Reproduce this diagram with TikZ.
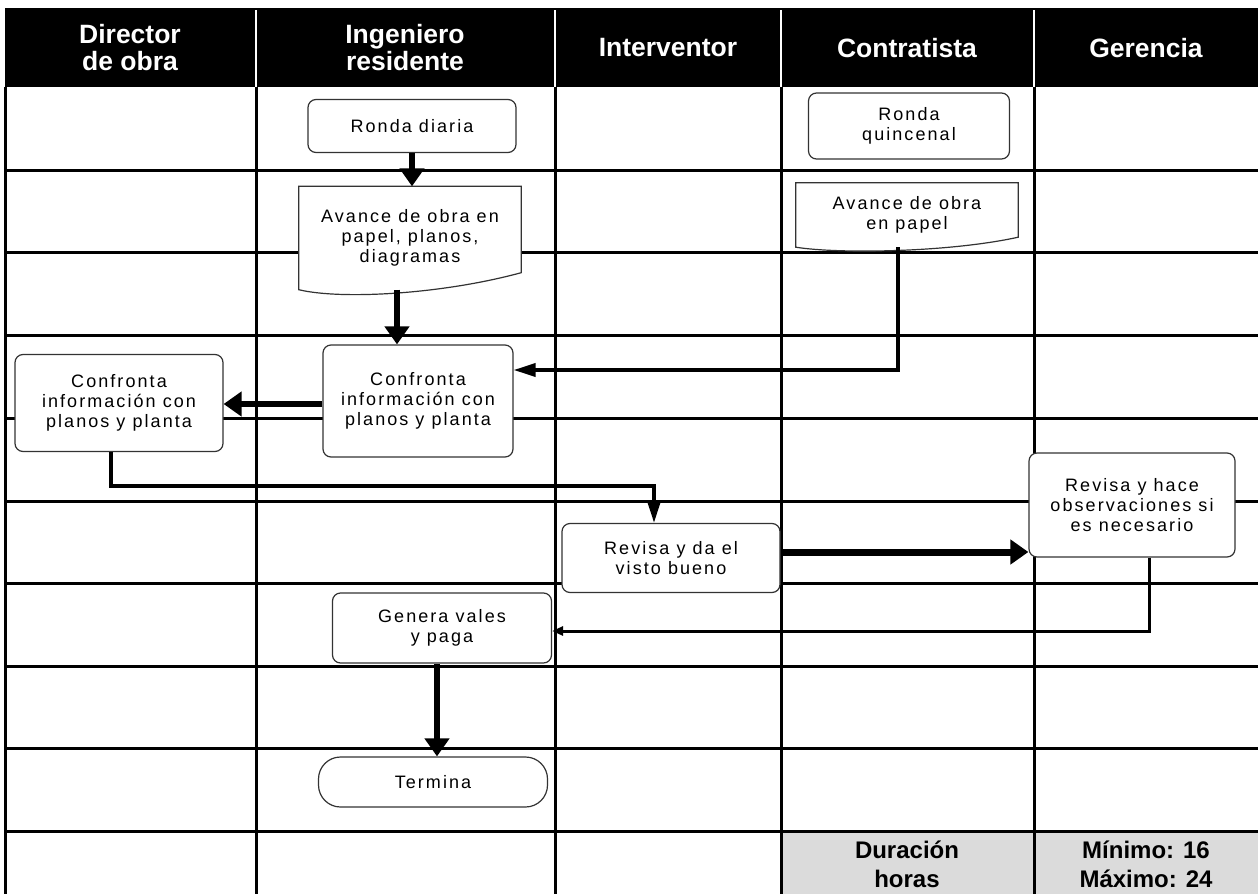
\documentclass[tikz,border=0pt]{standalone}
\usepackage{fontspec}
\setmainfont{Liberation Sans}
\newfontfamily\boxfont[LetterSpace=11.5]{Liberation Sans}
\usetikzlibrary{arrows.meta,backgrounds,positioning}

\begin{document}
\begin{tikzpicture}[
x=1pt,y=-1pt,
lane/.style={line width=3pt},
boxtext/.style={inner sep=0pt,align=center,font={\boxfont\fontsize{18}{20}\selectfont}},
box/.style={boxtext,draw=black!80,line width=1.2pt,fill=white,rounded corners=8pt},
doc/.style={boxtext},
docline/.style={draw=black!80,line width=1.2pt,fill=white},
head/.style={text=white,align=center,font={\fontsize{26.5}{27}\selectfont\bfseries}},
foot/.style={align=center,font={\fontsize{24}{29}\selectfont\bfseries}},
bigflow/.style={line width=6pt,-{Triangle[length=18pt,width=24pt]}},
flow/.style={line width=3.5pt,-{Triangle[length=22pt,width=13pt]}},
smallflow/.style={line width=3pt,-{Triangle[length=11pt,width=9pt]}}]
\useasboundingbox (0,0) rectangle (1258,894);

% Swimlane table
\begin{scope}[on background layer]
\fill[black!14] (781,831) rectangle (1258,894);
\fill (5,8) rectangle (1258,87);
\foreach \x in {256,555,781,1034}
  \draw[white,line width=2pt] (\x,10) -- (\x,87);
\foreach \y in {170,252,335,418,501,583,666,748,831}
  \draw[lane] (5,\y) -- (1258,\y);
\foreach \x in {5,256,555,781,1034}
  \draw[lane] (\x,87) -- (\x,894);
\end{scope}

\node[head] (hdir) at (130,48) {Director\\de obra};
\node[head] (hing) at (405,48) {Ingeniero\\residente};
\node[head] (hint) at (668,48) {Interventor};
\node[head] (hcon) at (907,48) {Contratista};
\node[head] (hger) at (1146,48) {Gerencia};

\node[foot] (dur) at (907,864) {Duración\\horas};
\node[foot] (lim) at (1146,864) {Mínimo: 16\\Máximo: 24};

% Steps
\node[box,minimum width=208pt,minimum height=53pt] (rondaD) at (412,126) {Ronda diaria};
\node[doc,minimum width=222pt,minimum height=103pt] (avanceD) at (410,238) {Avance de obra en\\papel, planos,\\diagramas};
\node[box,minimum width=190pt,minimum height=112pt] (confI) at (418,401) {Confronta\\información con\\planos y planta};
\node[box,minimum width=208pt,minimum height=97pt] (confD) at (119,403) {Confronta\\información con\\planos y planta};
\node[box,minimum width=201pt,minimum height=66pt] (rondaQ) at (909,126) {Ronda\\quincenal};
\node[doc,minimum width=222pt,minimum height=64pt] (avanceP) at (907,215) {Avance de obra\\en papel};
\node[box,minimum width=218pt,minimum height=69pt] (revisaV) at (671,558) {Revisa y da el\\visto bueno};
\node[box,minimum width=206pt,minimum height=104pt] (revisaH) at (1132,505) {Revisa y hace\\observaciones si\\es necesario};
\node[box,minimum width=219pt,minimum height=70pt] (genera) at (442,628) {Genera vales\\y paga};
\node[box,rounded corners=22pt,minimum width=229pt,minimum height=50pt] (termina) at (433,782) {Termina};

% document outlines, behind the text
\begin{scope}[on background layer]
\draw[docline] (avanceD.north west) -- (avanceD.north east) -- ([yshift=17pt]avanceD.south east)
  .. controls +(-81,22) and +(41,10) .. (avanceD.south west) -- cycle;
\draw[docline] (avanceP.north west) -- (avanceP.north east) -- ([yshift=10pt]avanceP.south east)
  .. controls +(-68,15) and +(44,7) .. (avanceP.south west) -- cycle;
\end{scope}

% Flow
\draw[bigflow] (rondaD.south) -- (rondaD.south |- avanceD.north);
\draw[bigflow] ([xshift=-13pt]avanceD.south) -- ([xshift=-13pt]avanceD.south |- confI.north);
\draw[flow] ([xshift=-9pt]avanceP.south) |- ([yshift=31pt]confI.east);
\draw[bigflow] ([yshift=-3pt]confI.west) -- ([yshift=-3pt]confI.west -| confD.east);
\draw[flow] ([xshift=-8pt]confD.south) -- ++(0,34) -| ([xshift=-17pt]revisaV.north);
\draw[bigflow,line width=7pt] ([yshift=6pt]revisaV.east) -- ([yshift=6pt]revisaV.east -| revisaH.west);
\draw[smallflow] ([xshift=17pt]revisaH.south) |- ([yshift=-3pt]genera.east);
\draw[bigflow] ([xshift=-5pt]genera.south) -- ([xshift=-5pt]genera.south |- termina.north);

\end{tikzpicture}
\end{document}
